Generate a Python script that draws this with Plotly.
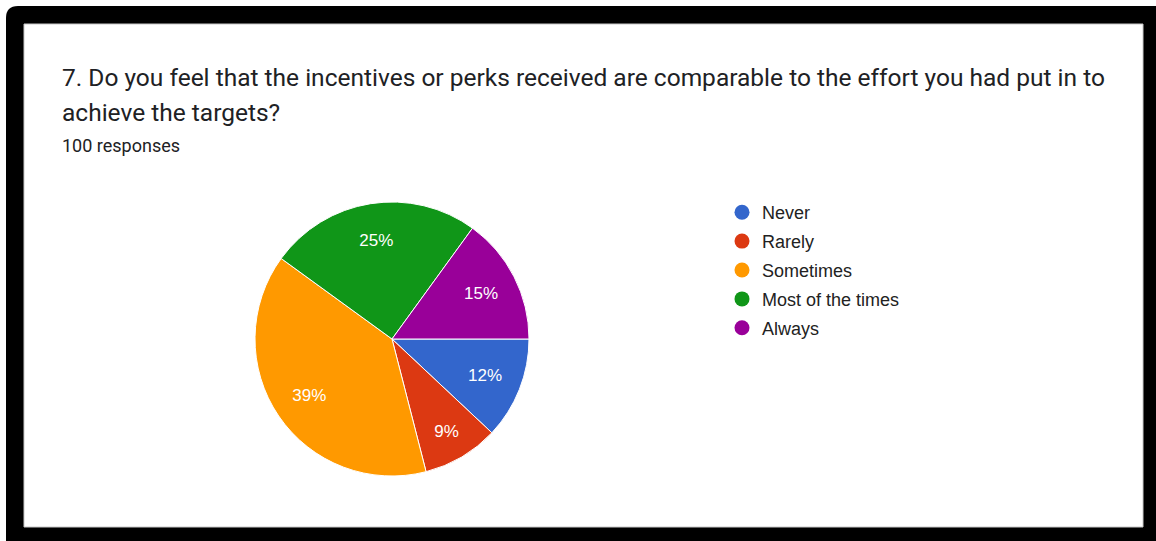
import plotly.graph_objects as go

W, H = 1156, 541

# Survey answers (100 responses)
categories = ["Never", "Rarely", "Sometimes", "Most of the times", "Always"]
responses = [12, 9, 39, 25, 15]
colors = ["#3366cc", "#dc3912", "#ff9900", "#109618", "#990099"]

title_line1 = "7. Do you feel that the incentives or perks received are comparable to the effort you had put in to"
title_line2 = "achieve the targets?"
subtitle = "100 responses"


def px(x):
    return x / W


def py(y):
    return 1 - y / H


fig = go.Figure()

# Pie centred at (392, 339) px with a radius of about 137 px
cx, cy, r = 392, 339, 137
pie_domain = dict(x=[px(cx - r), px(cx + r)], y=[py(cy + r), py(cy - r)])

fig.add_trace(go.Pie(
    labels=categories,
    values=responses,
    sort=False,
    direction="clockwise",
    rotation=90,
    marker=dict(colors=colors, line=dict(color="white", width=1)),
    textinfo="none",
    domain=pie_domain,
    showlegend=False,
    hoverinfo="label+percent",
))

# Transparent ring on top that carries the percentage labels further out
fig.add_trace(go.Pie(
    labels=categories,
    values=responses,
    sort=False,
    direction="clockwise",
    rotation=90,
    hole=0.46,
    marker=dict(colors=["rgba(0,0,0,0)"] * len(categories), line=dict(width=0)),
    texttemplate="%{percent:.0%}",
    textposition="inside",
    insidetextorientation="horizontal",
    textfont=dict(family="Liberation Sans, Arial", size=17, color="white"),
    domain=pie_domain,
    showlegend=False,
    hoverinfo="skip",
))

# Legend entries with round markers
for i, (name, col) in enumerate(zip(categories, colors)):
    fig.add_trace(go.Scatter(
        x=[None], y=[None], mode="markers", name=name,
        marker=dict(color=col, size=15, symbol="circle"),
        legendgroup=f"g{i}", showlegend=True,
    ))

# Black rounded frame and white card
rc = 12
x0, y0, x1, y1 = 6, 6, 1156, 541
frame_path = (
    f"M {px(x0)},{py(y0 + rc)} Q {px(x0)},{py(y0)} {px(x0 + rc)},{py(y0)} "
    f"L {px(x1)},{py(y0)} L {px(x1)},{py(y1)} L {px(x0)},{py(y1)} Z"
)
shapes = [
    dict(type="path", xref="paper", yref="paper", path=frame_path,
         fillcolor="black", line=dict(width=0), layer="below"),
    dict(type="rect", xref="paper", yref="paper",
         x0=px(24), x1=px(1143), y0=py(527), y1=py(24),
         fillcolor="white", line=dict(color="#c8c8c8", width=1), layer="below"),
]

annotations = [
    dict(text=title_line1, x=px(60), y=py(77), xref="paper", yref="paper",
         xanchor="left", yanchor="middle", showarrow=False,
         font=dict(family="Roboto", size=24.5, color="#202124")),
    dict(text=title_line2, x=px(60), y=py(113), xref="paper", yref="paper",
         xanchor="left", yanchor="middle", showarrow=False,
         font=dict(family="Roboto", size=24.5, color="#202124")),
    dict(text=subtitle, x=px(60), y=py(145), xref="paper", yref="paper",
         xanchor="left", yanchor="middle", showarrow=False,
         font=dict(family="Roboto", size=18, color="#202124")),
]

fig.update_layout(
    width=W, height=H,
    margin=dict(l=0, r=0, t=0, b=0),
    paper_bgcolor="white",
    plot_bgcolor="rgba(0,0,0,0)",
    xaxis=dict(visible=False, domain=[0.98, 0.99]),
    yaxis=dict(visible=False, domain=[0.98, 0.99]),
    shapes=shapes,
    annotations=annotations,
    legend=dict(
        x=px(722), y=py(194), xanchor="left", yanchor="top",
        bgcolor="rgba(0,0,0,0)",
        font=dict(family="Liberation Sans, Arial", size=18, color="#222222"),
        tracegroupgap=2.5, itemsizing="trace",
    ),
)

fig.write_html("out.html")
